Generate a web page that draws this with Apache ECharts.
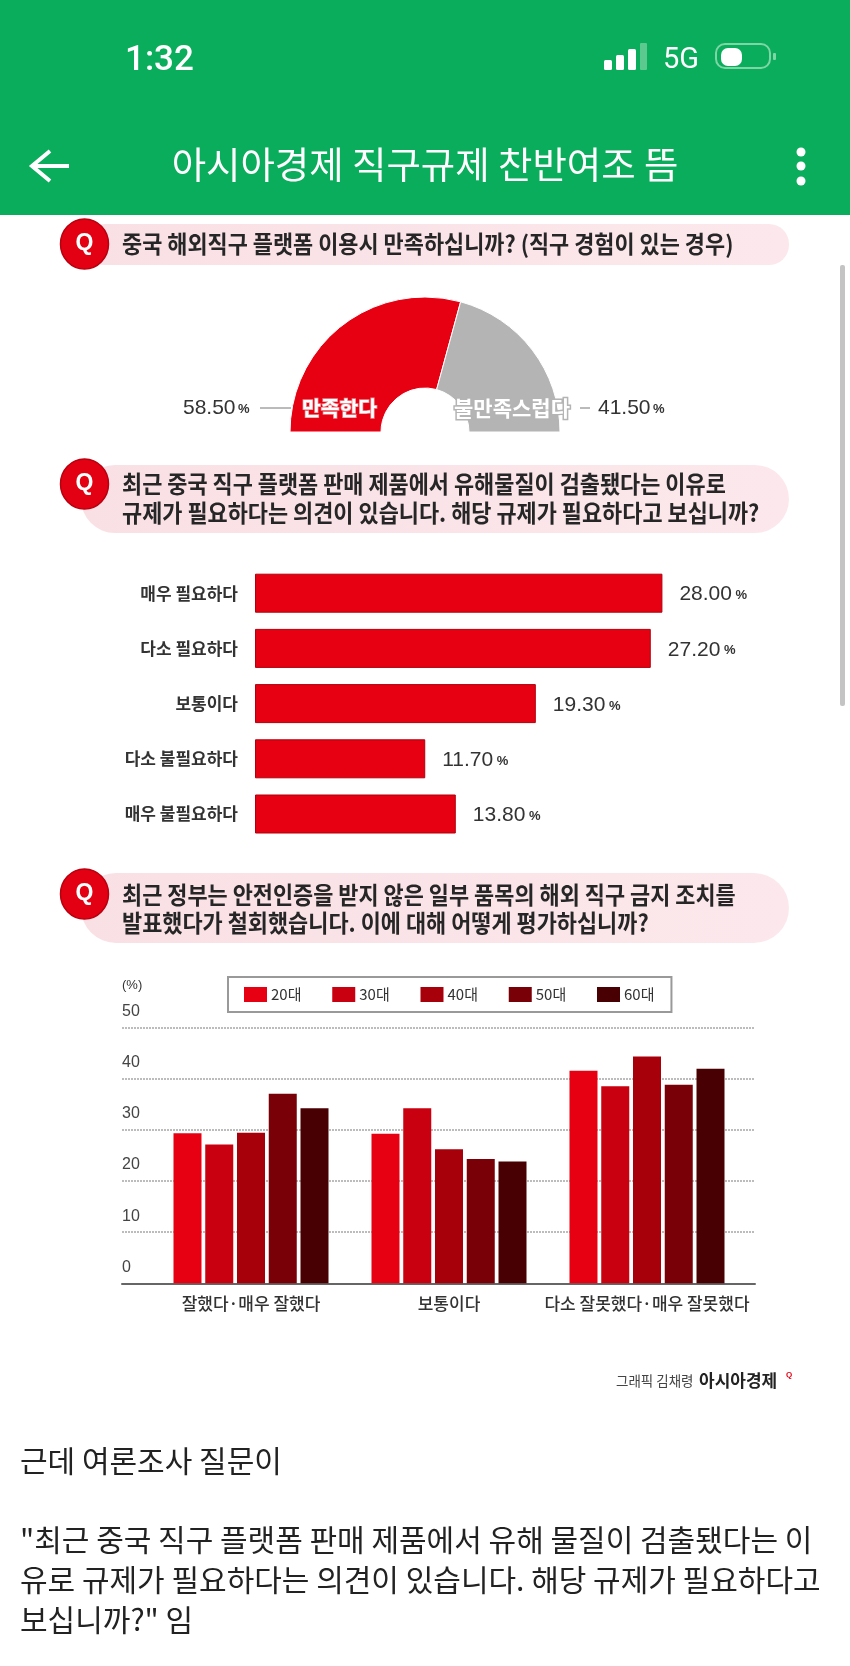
<!DOCTYPE html>
<html><head><meta charset="utf-8">
<style>html,body{margin:0;padding:0;background:#fff}#c{width:850px;height:1666px}</style>
<script src="https://cdn.jsdelivr.net/npm/echarts@6/dist/echarts.min.js"></script>
</head><body><div id="c"></div>
<script>
const KR = '"Noto Sans CJK KR"';
const NUM = '"Liberation Sans"';

const satisfactionNames = ['만족한다', '불만족스럽다'];
const satisfactionValues = [58.5, 41.5];

const needCategories = ['매우 필요하다', '다소 필요하다', '보통이다', '다소 불필요하다', '매우 불필요하다'];
const needValues = [28.0, 27.2, 19.3, 11.7, 13.8];

const evalCategories = ['잘했다·매우 잘했다', '보통이다', '다소 잘못했다·매우 잘못했다'];
const ageNames = ['20대', '30대', '40대', '50대', '60대'];
const age20 = [29.3, 29.2, 41.5];
const age30 = [27.1, 34.2, 38.5];
const age40 = [29.4, 26.2, 44.3];
const age50 = [37.0, 24.3, 38.8];
const age60 = [34.2, 23.8, 41.9];
const ageColors = ['#e60012', '#c9000f', '#a8000a', '#780006', '#480003'];

const q1 = '중국 해외직구 플랫폼 이용시 만족하십니까? (직구 경험이 있는 경우)';
const q2 = ['최근 중국 직구 플랫폼 판매 제품에서 유해물질이 검출됐다는 이유로', '규제가 필요하다는 의견이 있습니다. 해당 규제가 필요하다고 보십니까?'];
const q3 = ['최근 정부는 안전인증을 받지 않은 일부 품목의 해외 직구 금지 조치를', '발표했다가 철회했습니다. 이에 대해 어떻게 평가하십니까?'];
const body = ['근데 여론조사 질문이', '"최근 중국 직구 플랫폼 판매 제품에서 유해 물질이 검출됐다는 이', '유로 규제가 필요하다는 의견이 있습니다. 해당 규제가 필요하다고', '보십니까?" 임'];

function txt(text, x, y, size, fill, weight, align, family, extra) {
  return Object.assign({ type: 'text', z: 10, style: Object.assign({
    text, x, y, fill, align: align || 'left', verticalAlign: 'middle',
    textAlign: align || 'left', textVerticalAlign: 'middle',
    font: (weight || 'normal') + ' ' + size + 'px ' + (family || KR)
  }, extra && extra.style) }, extra && extra.el);
}
function qText(text, y) {
  return txt(text, 122, y, 23.6, '#262626', 'bold', 'left', KR, { el: { scaleX: 0.928, originX: 122, originY: y } });
}
function rect(x, y, width, height, r, fill, stroke, lw) {
  return { type: 'rect', z: 1, shape: { x, y, width, height, r }, style: { fill: fill, stroke: stroke || null, lineWidth: lw || 1 } };
}
function qBadge(cy) {
  return [
    { type: 'ellipse', z: 5, shape: { cx: 84.5, cy, rx: 24, ry: 25 }, style: { fill: '#e20012', stroke: '#b8000e', lineWidth: 1.5 } },
    txt('Q', 84.5, cy, 23, '#fff', 'bold', 'center', NUM)
  ];
}
const pink = { type: 'linear', x: 0, y: 0, x2: 1, y2: 0, colorStops: [{ offset: 0, color: '#f9e0e5' }, { offset: 1, color: '#fce8ec' }] };
const graphics = [
  rect(0, 0, 850, 215, 0, '#0aad5c'),
  txt('1:32', 125, 61, 35, '#fff', '500', 'left', 'Roboto'),
  rect(604, 60, 8, 10, 1.5, '#fff'),
  rect(616, 55, 8, 15, 1.5, '#fff'),
  rect(628, 49, 8, 21, 1.5, '#fff'),
  rect(640, 43, 7, 27, 1, '#5cc98f'),
  txt('5G', 663, 61, 29, '#fff', 'normal', 'left', 'Roboto'),
  rect(716, 44, 54, 24, 9, 'transparent', '#7fd6a5', 2),
  rect(721, 48, 21, 18, 7, '#fff'),
  rect(773, 53, 3, 7, 1, '#7fd6a5'),
  txt('아시아경제 직구규제 찬반여조 뜸', 425, 165, 37.4, '#fff', 'normal', 'center'),
  { type: 'polyline', z: 5, shape: { points: [[50, 151], [32, 166], [50, 181]] }, style: { stroke: '#fff', lineWidth: 4, fill: null } },
  { type: 'line', z: 5, shape: { x1: 33, y1: 166, x2: 69, y2: 166 }, style: { stroke: '#fff', lineWidth: 4 } },
  { type: 'circle', z: 5, shape: { cx: 801, cy: 152, r: 4.5 }, style: { fill: '#fff' } },
  { type: 'circle', z: 5, shape: { cx: 801, cy: 166, r: 4.5 }, style: { fill: '#fff' } },
  { type: 'circle', z: 5, shape: { cx: 801, cy: 181, r: 4.5 }, style: { fill: '#fff' } },
  rect(840, 265, 5, 441, 2, '#c4c4c4'),

  rect(85, 224, 704, 41, 20, pink),
  ...qBadge(244),
  qText(q1, 244),

  rect(81, 465, 708, 68, 34, pink),
  ...qBadge(484),
  qText(q2[0], 484),
  qText(q2[1], 513),

  rect(81, 873, 708, 70, 35, pink),
  ...qBadge(894),
  qText(q3[0], 895),
  qText(q3[1], 923),

  txt(satisfactionValues[0].toFixed(2), 183, 408, 21, '#333', 'normal', 'left', NUM),
  txt('%', 238, 409, 13, '#333', 'bold', 'left', NUM),
  { type: 'line', z: 5, shape: { x1: 260, y1: 408, x2: 291, y2: 408 }, style: { stroke: '#777', lineWidth: 1 } },
  txt(satisfactionNames[0], 339.5, 408, 20.4, '#fff', 'bold', 'center', KR, { style: { stroke: '#f08a90', lineWidth: 1.5 } }),
  txt(satisfactionNames[1], 512, 408, 21, '#fff', 'bold', 'center', KR, { style: { stroke: '#b4b4b4', lineWidth: 3 } }),
  { type: 'line', z: 5, shape: { x1: 580, y1: 408, x2: 590, y2: 408 }, style: { stroke: '#777', lineWidth: 1 } },
  txt(satisfactionValues[1].toFixed(2), 598, 408, 21, '#333', 'normal', 'left', NUM),
  txt('%', 653, 409, 13, '#333', 'bold', 'left', NUM),

  txt('(%)', 122, 985, 13, '#333', 'normal', 'left', NUM),

  txt('그래픽 김채령', 616, 1381, 13.5, '#444', 'normal'),
  txt('아시아경제', 699, 1381, 17, '#222', 'bold'),
  txt('Q', 786, 1375, 8, '#e60012', 'bold', 'left', NUM),

  txt(body[0], 20, 1461, 30, '#222', 'normal'),
  txt(body[1], 20, 1540, 30, '#222', 'normal'),
  txt(body[2], 20, 1580, 30, '#222', 'normal'),
  txt(body[3], 20, 1620, 30, '#222', 'normal')
];

const ageData = [age20, age30, age40, age50, age60];
const option = {
  animation: false,
  backgroundColor: '#fff',
  textStyle: { fontFamily: KR },
  grid: [
    { left: 255, top: 565.6, width: 550, height: 276 },
    { left: 122, top: 1027.3, width: 633, height: 256 },
    { left: 152, top: 1027.3, width: 594, height: 256 }
  ],
  xAxis: [
    { gridIndex: 0, type: 'value', min: 0, max: 37.8, show: false },
    { gridIndex: 1, type: 'category', data: [''], axisTick: { show: false }, axisLabel: { show: false },
      axisLine: { lineStyle: { color: '#666', width: 2 } } },
    { gridIndex: 2, type: 'category', data: evalCategories, axisTick: { show: false }, axisLine: { show: false },
      axisLabel: { interval: 0, margin: 12, fontSize: 17, color: '#333', fontFamily: KR, fontWeight: 500, hideOverlap: false } }
  ],
  yAxis: [
    { gridIndex: 0, type: 'category', inverse: true, data: needCategories, axisTick: { show: false }, axisLine: { show: false },
      axisLabel: { margin: 17, fontSize: 17, fontWeight: 'bold', color: '#333', fontFamily: KR, padding: [3, 0, 0, 0] } },
    { gridIndex: 1, type: 'value', min: 0, max: 50, interval: 10, axisLine: { show: false }, axisTick: { show: false },
      axisLabel: { inside: true, margin: 0, fontSize: 16, color: '#444', fontFamily: NUM, align: 'left', verticalAlign: 'bottom', padding: [0, 0, 8, 0] },
      splitLine: { show: true, lineStyle: { color: '#bcbcbc', width: 2, type: [2, 1] } } },
    { gridIndex: 2, type: 'value', min: 0, max: 50, show: false }
  ],
  legend: {
    show: true, left: 228, top: 977, orient: 'horizontal', data: ageNames,
    itemWidth: 23, itemHeight: 15, itemGap: 30.8, padding: [10, 17, 10, 16],
    borderColor: '#999', borderWidth: 2, icon: 'rect',
    textStyle: { fontSize: 15, color: '#333', fontFamily: KR, padding: [0, 0, 0, -1] }
  },
  graphic: { elements: graphics },
  series: [
    {
      type: 'pie', center: [425, 432], radius: [44, 135], startAngle: 180, silent: true,
      label: { show: false }, labelLine: { show: false },
      itemStyle: { borderColor: '#fff', borderWidth: 1 },
      data: [
        { name: satisfactionNames[0], value: satisfactionValues[0], itemStyle: { color: '#e60012' } },
        { name: satisfactionNames[1], value: satisfactionValues[1], itemStyle: { color: '#b4b4b4' } },
        { name: 'hidden', value: satisfactionValues[0] + satisfactionValues[1], itemStyle: { color: 'transparent', borderWidth: 0 } }
      ]
    },
    {
      type: 'bar', xAxisIndex: 0, yAxisIndex: 0, data: needValues, barWidth: 39,
      itemStyle: { color: '#e60012', borderColor: '#b0000c', borderWidth: 1 },
      label: { show: true, position: 'right', distance: 17, color: '#333', offset: [0, 1.5],
        formatter: p => '{n|' + p.value.toFixed(2) + '}{p| %}',
        rich: { n: { fontSize: 21, fontFamily: NUM, color: '#333' }, p: { fontSize: 13, fontWeight: 'bold', fontFamily: NUM, color: '#333', padding: [2, 0, 0, 0] } } }
    },
    ...ageNames.map((name, i) => ({
      type: 'bar', name, xAxisIndex: 2, yAxisIndex: 2, data: ageData[i], barWidth: 28, barGap: '13.4%',
      itemStyle: { color: ageColors[i] }
    }))
  ]
};
echarts.init(document.getElementById('c'), null, { renderer: 'canvas' }).setOption(option);
</script></body></html>
